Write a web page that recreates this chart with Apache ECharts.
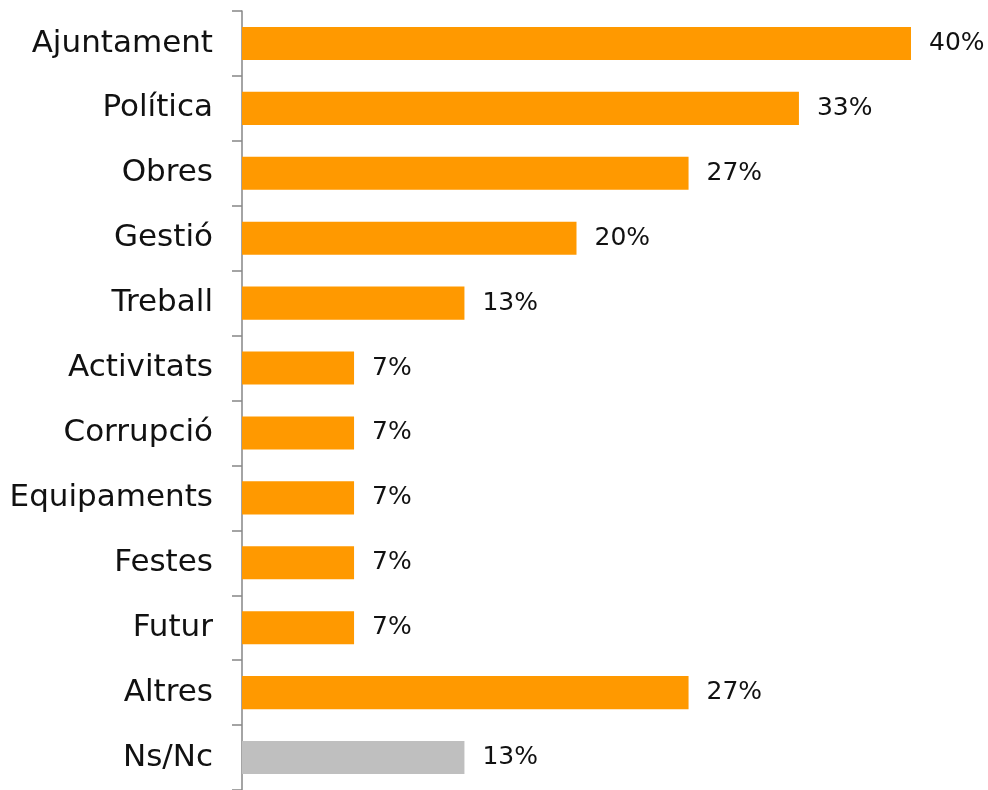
<!DOCTYPE html>
<html>
<head>
<meta charset="utf-8">
<script src="https://cdn.jsdelivr.net/npm/echarts@6/dist/echarts.min.js"></script>
<style>
html,body{margin:0;padding:0;background:#fff;}
#chart{width:988px;height:790px;}
</style>
</head>
<body>
<div id="chart"></div>
<script>
const categories = ['Ajuntament','Política','Obres','Gestió','Treball','Activitats','Corrupció','Equipaments','Festes','Futur','Altres','Ns/Nc'];
const values = [40.0, 33.3, 26.7, 20.0, 13.3, 6.7, 6.7, 6.7, 6.7, 6.7, 26.7, 13.3];
const noAnswerCategory = 'Ns/Nc';

const ORANGE = '#FF9900';
const GREY = '#BFBFBF';
const FONT = 'DejaVu Sans';

const chart = echarts.init(document.getElementById('chart'));
chart.setOption({
  animation: false,
  grid: { left: 242, top: 11, width: 669, height: 782 },
  xAxis: { type: 'value', min: 0, max: 40, show: false },
  yAxis: {
    type: 'category',
    data: categories,
    inverse: true,
    axisLine: { show: true, lineStyle: { color: '#868686', width: 1.5 } },
    axisTick: { show: true, length: 10, lineStyle: { color: '#868686', width: 1.5 } },
    axisLabel: { margin: 29, color: '#111', fontFamily: FONT, fontSize: 31 }
  },
  series: [{
    type: 'bar',
    barCategoryGap: '49%',
    data: values.map((v, i) => ({
      value: v,
      itemStyle: { color: categories[i] === noAnswerCategory ? GREY : ORANGE }
    })),
    label: {
      show: true,
      position: 'right',
      distance: 18,
      color: '#111',
      fontFamily: FONT,
      fontSize: 25,
      formatter: p => Math.round(p.value) + '%'
    }
  }]
});
</script>
</body>
</html>
